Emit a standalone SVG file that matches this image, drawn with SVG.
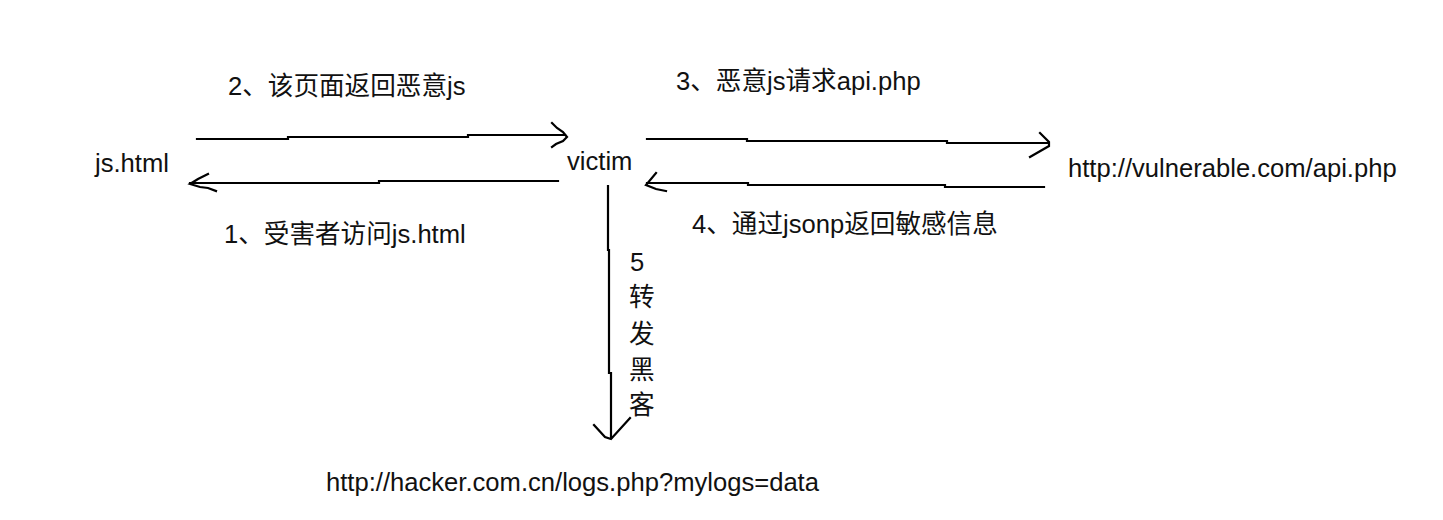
<svg xmlns="http://www.w3.org/2000/svg" width="1443" height="520" viewBox="0 0 1443 520">
<style>
text{font-family:"Liberation Sans","Noto Sans CJK SC",sans-serif;font-size:25.6px;fill:#111}
.ln{fill:none;stroke:#000;stroke-width:2.2;stroke-linecap:square;stroke-linejoin:miter}
</style>
<rect width="1443" height="520" fill="#fff"/>
<g id="node-jshtml"><text x="95" y="172">js.html</text></g>
<g id="node-victim"><text x="567" y="170">victim</text></g>
<g id="node-api"><text x="1068" y="177">http://vulnerable.com/api.php</text></g>
<g id="node-hacker"><text x="326" y="491">http://hacker.com.cn/logs.php?mylogs=data</text></g>
<g id="connectors">
  <g id="edge-2">
    <polyline class="ln" points="197,139 288,139 288,137 468,137 468,135 565,135"/>
    <polyline class="ln" points="552,123 557,128 563,132 567,137 563,141 556,144 552,147"/>
    <text x="228" y="95">2、该页面返回恶意js</text>
  </g>
  <g id="edge-1">
    <polyline class="ln" points="558,181 379,181 379,183 190,183"/>
    <polyline class="ln" points="208,174 198,179 190,184 200,187 208,188 216,191"/>
    <text x="224" y="243">1、受害者访问js.html</text>
  </g>
  <g id="edge-3">
    <polyline class="ln" points="647,139 747,139 747,141 947,141 947,143 1047,143"/>
    <polyline class="ln" points="1040,133 1049,142 1049,146 1030,157"/>
    <text x="676" y="90">3、恶意js请求api.php</text>
  </g>
  <g id="edge-4">
    <polyline class="ln" points="1044,187 945,187 945,185 748,185 748,183 647,183"/>
    <polyline class="ln" points="656,173 646,185 656,189 666,191"/>
    <text x="692" y="233">4、通过jsonp返回敏感信息</text>
  </g>
  <g id="edge-5">
    <polyline class="ln" points="608,186 608,250 609,250 609,373 611,373 611,438"/>
    <polyline class="ln" points="594,425 605,437 611,439 630,418"/>
    <text x="630" y="271">5</text>
    <text x="629" y="306">转</text>
    <text x="629" y="343">发</text>
    <text x="629" y="379">黑</text>
    <text x="629" y="414">客</text>
  </g>
</g>
</svg>
